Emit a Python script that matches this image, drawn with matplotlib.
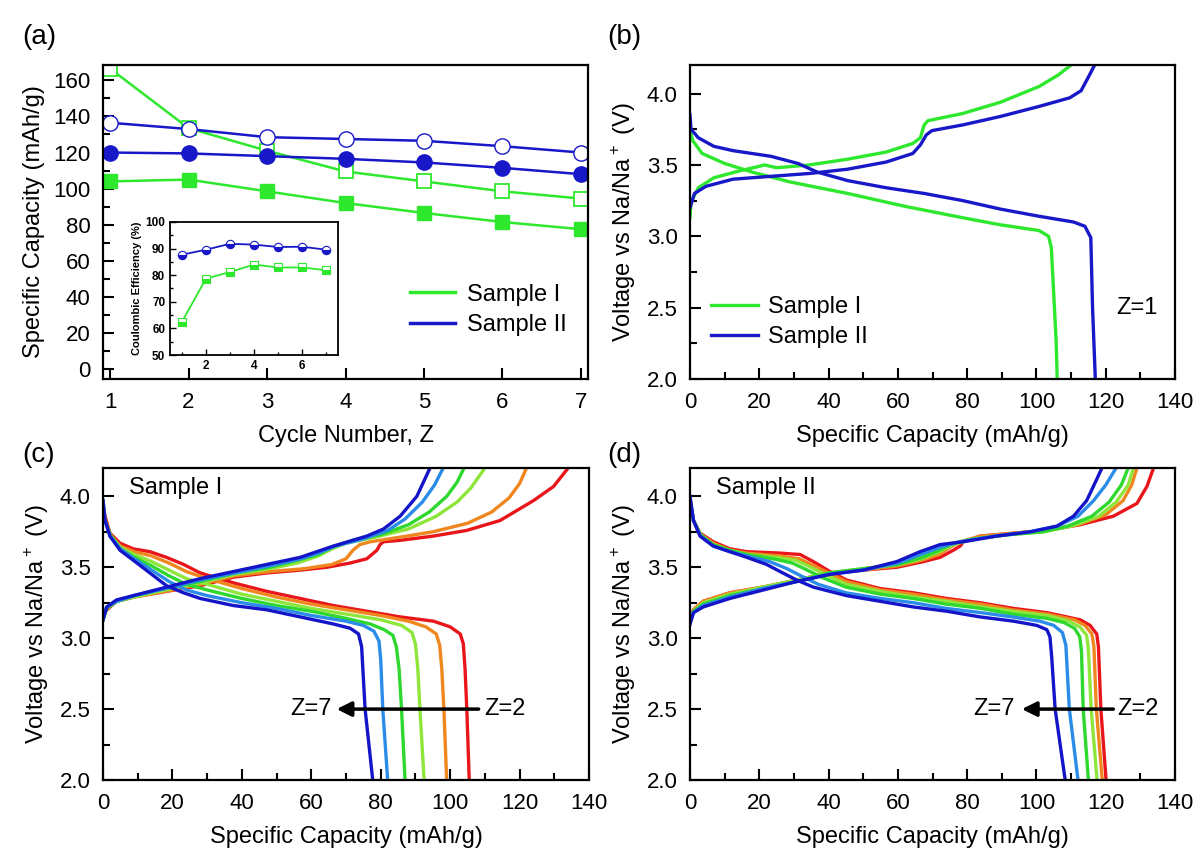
import numpy as np
import matplotlib.pyplot as plt
from matplotlib.ticker import MultipleLocator

plt.rcParams['font.family'] = ['Liberation Sans', 'DejaVu Sans']
plt.rcParams['mathtext.fontset'] = 'custom'
plt.rcParams['mathtext.rm'] = 'Liberation Sans'

# ---- panel (a): capacity vs cycle ----
cycles = [1, 2, 3, 4, 5, 6, 7]
cap_I_charge = [166.5, 133.5, 121.0, 109.5, 104.0, 98.5, 94.5]
cap_I_dis = [104.0, 105.0, 98.5, 92.0, 86.5, 81.5, 77.5]
cap_II_charge = [136.5, 133.0, 128.5, 127.5, 126.5, 123.5, 120.0]
cap_II_dis = [120.0, 119.5, 118.0, 116.5, 114.5, 111.5, 108.0]

# inset: coulombic efficiency
ce_I = [62.5, 78.7, 81.2, 84.0, 82.9, 82.9, 81.9]
ce_II = [87.7, 89.6, 91.8, 91.5, 90.6, 90.7, 89.6]

# ---- panel (b): first cycle, (capacity, voltage) ----
b_I_charge = [(0, 3.13), (0.3, 3.24), (2.4, 3.34), (6.9, 3.41), (14.6, 3.46), (20, 3.49),
              (21.5, 3.50), (25, 3.48), (34.5, 3.50), (45.5, 3.54), (56.6, 3.59), (64.3, 3.65),
              (66.5, 3.69), (67.6, 3.78), (68.7, 3.81), (78.7, 3.86), (89.7, 3.94), (100.8, 4.05),
              (106.3, 4.13), (110, 4.2)]
b_I_dis = [(0, 3.74), (0.8, 3.67), (3.5, 3.58), (10, 3.51), (17.9, 3.45), (29, 3.38), (45.5, 3.30),
           (62, 3.21), (78.7, 3.13), (89.7, 3.08), (100.8, 3.04), (103.5, 3.0), (104.3, 2.92),
           (105.2, 2.5), (105.7, 2.26), (106, 2.0)]
b_II_charge = [(0, 3.2), (1.3, 3.30), (4.6, 3.35), (12.4, 3.40), (23.4, 3.42), (34.5, 3.44),
               (45.5, 3.47), (56.6, 3.52), (64.3, 3.58), (66.5, 3.64), (68.2, 3.71), (69.8, 3.74),
               (78.7, 3.78), (89.7, 3.84), (100.8, 3.91), (109.6, 3.97), (112.9, 4.02),
               (115.1, 4.12), (116.8, 4.2)]
b_II_dis = [(0, 3.85), (0.3, 3.75), (2.4, 3.69), (6.9, 3.63), (12.4, 3.60), (23.4, 3.56),
            (31.2, 3.51), (36.7, 3.45), (45.5, 3.39), (56.6, 3.34), (67.6, 3.30), (78.7, 3.25),
            (89.7, 3.19), (100.8, 3.14), (110.7, 3.10), (114, 3.07), (115.7, 2.99), (116.2, 2.5),
            (117, 2.0)]

# ---- panel (c): Sample I, cycles 2-7 ----
c_charge = {
    2: [(0, 3.13), (0.1, 3.16), (1.1, 3.20), (3.9, 3.26), (8.7, 3.29), (18.3, 3.33), (28, 3.37),
        (37.6, 3.43), (47.2, 3.46), (56.8, 3.48), (64.5, 3.50), (71.2, 3.53), (76, 3.56),
        (78.9, 3.62), (79.8, 3.66), (80.8, 3.68), (85.6, 3.69), (95.2, 3.72), (104.8, 3.76),
        (114.4, 3.83), (124, 3.97), (129.8, 4.07), (134, 4.2)],
    3: [(0, 3.13), (1, 3.21), (4, 3.26), (9, 3.29), (18, 3.33), (28, 3.38), (38, 3.44), (48, 3.47),
        (58, 3.49), (66, 3.52), (70, 3.56), (72, 3.62), (74, 3.66), (77, 3.68), (85, 3.71),
        (95, 3.75), (105, 3.81), (112, 3.89), (117, 3.99), (120, 4.09), (122, 4.2)],
    4: [(0, 3.13), (1, 3.21), (4, 3.26), (9, 3.29), (18, 3.34), (28, 3.39), (38, 3.45), (48, 3.49),
        (56, 3.53), (62, 3.58), (66, 3.63), (70, 3.67), (78, 3.71), (88, 3.77), (96, 3.86),
        (102, 3.96), (106, 4.06), (110, 4.2)],
    5: [(0, 3.13), (1, 3.21), (4, 3.26), (9, 3.30), (18, 3.35), (28, 3.40), (38, 3.46), (48, 3.50),
        (56, 3.55), (62, 3.59), (66, 3.64), (72, 3.69), (80, 3.73), (88, 3.80), (94, 3.89),
        (99, 4.0), (102, 4.1), (104, 4.2)],
    6: [(0, 3.13), (1, 3.22), (4, 3.26), (9, 3.30), (18, 3.35), (28, 3.41), (38, 3.46), (48, 3.51),
        (57, 3.56), (62, 3.60), (67, 3.65), (75, 3.70), (82, 3.76), (87, 3.84), (92, 3.96),
        (95.5, 4.08), (98, 4.2)],
    7: [(0, 3.13), (1.1, 3.22), (3.9, 3.27), (8.7, 3.30), (18.3, 3.36), (28, 3.42), (37.6, 3.47),
        (47.2, 3.52), (56.8, 3.57), (61.6, 3.61), (66.4, 3.65), (76, 3.72), (80.8, 3.77),
        (85.6, 3.86), (90.4, 4.0), (94.2, 4.2)],
}
c_dis = {
    2: [(0, 3.92), (0.6, 3.86), (2, 3.74), (4.9, 3.67), (8.7, 3.63), (13.5, 3.61), (18.3, 3.57),
        (23.2, 3.52), (28, 3.46), (37.6, 3.39), (47.2, 3.33), (56.8, 3.28), (66.4, 3.23),
        (76, 3.19), (85.6, 3.15), (95.2, 3.12), (100, 3.08), (102.9, 3.03), (103.8, 2.96),
        (104.3, 2.78), (104.8, 2.5), (105.5, 2.0)],
    3: [(0, 3.95), (0.5, 3.84), (2, 3.73), (5, 3.65), (9, 3.61), (14, 3.58), (19, 3.53), (24, 3.47),
        (30, 3.42), (40, 3.35), (50, 3.29), (60, 3.24), (70, 3.20), (80, 3.16), (88, 3.12),
        (93, 3.08), (96, 3.03), (97, 2.95), (97.6, 2.78), (98.2, 2.5), (99, 2.0)],
    4: [(0, 3.96), (0.5, 3.84), (2, 3.73), (5, 3.64), (9, 3.59), (14, 3.54), (19, 3.48), (24, 3.42),
        (30, 3.38), (40, 3.31), (50, 3.26), (60, 3.21), (70, 3.17), (80, 3.13), (86, 3.09),
        (89, 3.04), (90, 2.96), (90.7, 2.78), (91.3, 2.5), (92.5, 2.0)],
    5: [(0, 3.96), (0.5, 3.84), (2, 3.73), (5, 3.63), (9, 3.57), (14, 3.51), (19, 3.44), (24, 3.38),
        (30, 3.34), (40, 3.28), (50, 3.23), (60, 3.19), (70, 3.14), (77, 3.10), (81, 3.06),
        (83.5, 3.02), (84.5, 2.94), (85.3, 2.78), (86, 2.5), (87, 2.0)],
    6: [(0, 3.97), (0.5, 3.84), (2, 3.72), (5, 3.63), (9, 3.56), (14, 3.48), (19, 3.40), (24, 3.34),
        (30, 3.30), (40, 3.25), (50, 3.21), (60, 3.16), (70, 3.12), (75, 3.09), (78, 3.05),
        (79.5, 2.98), (80, 2.85), (80.6, 2.5), (82, 2.0)],
    7: [(0, 3.97), (0.6, 3.83), (2, 3.72), (4.9, 3.62), (8.7, 3.55), (13.5, 3.46), (18.3, 3.37),
        (23.2, 3.32), (28, 3.28), (37.6, 3.23), (47.2, 3.20), (56.8, 3.15), (66.4, 3.10),
        (71.2, 3.07), (73.6, 3.03), (74.5, 2.94), (75.5, 2.5), (77.7, 2.0)],
}

# ---- panel (d): Sample II, cycles 2-7 ----
d_charge = {
    2: [(0, 3.13), (1, 3.20), (3.8, 3.26), (11.5, 3.32), (21.2, 3.36), (30.8, 3.41), (40.4, 3.46),
        (50, 3.48), (59.7, 3.50), (67.4, 3.54), (72.2, 3.57), (76, 3.62), (78, 3.65), (78.9, 3.68),
        (83.7, 3.72), (93.4, 3.74), (103, 3.76), (112.6, 3.80), (122.2, 3.86), (129, 3.95),
        (131.9, 4.07), (133.8, 4.2)],
    3: [(0, 3.13), (1, 3.20), (3.8, 3.26), (11.5, 3.32), (21, 3.36), (31, 3.41), (40, 3.46),
        (50, 3.48), (60, 3.51), (67, 3.55), (72, 3.59), (75, 3.64), (78, 3.68), (84, 3.72),
        (93, 3.74), (103, 3.76), (112, 3.80), (120, 3.87), (125, 3.97), (127.5, 4.08), (129, 4.2)],
    4: [(0, 3.12), (1, 3.19), (3.8, 3.25), (11.5, 3.31), (21, 3.36), (31, 3.41), (40, 3.46),
        (50, 3.49), (60, 3.52), (67, 3.56), (72, 3.61), (76, 3.66), (82, 3.70), (92, 3.73),
        (102, 3.75), (110, 3.79), (118, 3.86), (123, 3.96), (126.5, 4.08), (128, 4.2)],
    5: [(0, 3.11), (1, 3.19), (3.8, 3.24), (11.5, 3.30), (21, 3.35), (31, 3.40), (40, 3.46),
        (50, 3.49), (60, 3.52), (67, 3.57), (72, 3.62), (76, 3.67), (82, 3.70), (92, 3.73),
        (102, 3.75), (109, 3.79), (116, 3.86), (121, 3.96), (124.5, 4.08), (126.5, 4.2)],
    6: [(0, 3.10), (1, 3.18), (3.8, 3.23), (11.5, 3.29), (21, 3.35), (31, 3.40), (40, 3.45),
        (50, 3.48), (60, 3.53), (66.5, 3.59), (72, 3.64), (78, 3.68), (88, 3.72), (98, 3.75),
        (106, 3.79), (112, 3.86), (116.5, 3.97), (120, 4.08), (123, 4.2)],
    7: [(0, 3.10), (1, 3.18), (3.8, 3.22), (11.5, 3.28), (21.2, 3.34), (30.8, 3.40), (40.4, 3.45),
        (50, 3.48), (59.7, 3.54), (66.4, 3.61), (72.2, 3.66), (78.9, 3.68), (88.5, 3.72),
        (98.2, 3.75), (105.9, 3.79), (110.7, 3.86), (114.5, 3.97), (117.4, 4.12), (118.9, 4.2)],
}
d_dis = {
    2: [(0, 3.97), (1, 3.83), (2.9, 3.74), (6.7, 3.68), (11.5, 3.63), (16.4, 3.61), (26, 3.60),
        (31.8, 3.59), (35.6, 3.54), (40.4, 3.47), (45.2, 3.41), (54.9, 3.35), (64.5, 3.32),
        (74.1, 3.28), (83.7, 3.25), (93.4, 3.21), (103, 3.18), (112.6, 3.13), (115.5, 3.09),
        (117.4, 3.03), (117.9, 2.94), (118.6, 2.5), (120.1, 2.0)],
    3: [(0, 3.97), (1, 3.83), (3, 3.73), (6.7, 3.67), (11.5, 3.62), (16.4, 3.60), (26, 3.58),
        (31.5, 3.56), (35, 3.52), (40, 3.46), (45, 3.40), (55, 3.34), (64.5, 3.31), (74, 3.27),
        (84, 3.24), (93, 3.20), (103, 3.17), (111, 3.13), (114, 3.09), (116, 3.03), (116.6, 2.94),
        (117.3, 2.5), (119, 2.0)],
    4: [(0, 3.98), (1, 3.83), (3, 3.73), (6.7, 3.66), (11.5, 3.62), (16.4, 3.59), (25, 3.57),
        (30.5, 3.55), (34, 3.51), (39, 3.45), (45, 3.38), (55, 3.33), (64.5, 3.29), (74, 3.26),
        (84, 3.22), (93, 3.19), (103, 3.16), (109.5, 3.12), (112.5, 3.08), (114.5, 3.02),
        (115, 2.92), (115.8, 2.5), (117.5, 2.0)],
    5: [(0, 3.98), (1, 3.83), (3, 3.73), (6.7, 3.66), (11.5, 3.62), (16.4, 3.59), (24, 3.56),
        (29.5, 3.53), (33, 3.49), (38, 3.43), (45, 3.36), (55, 3.31), (64.5, 3.28), (74, 3.24),
        (84, 3.21), (93, 3.17), (103, 3.14), (108, 3.11), (111, 3.07), (112.5, 3.01), (113, 2.91),
        (113.5, 2.5), (115, 2.0)],
    6: [(0, 3.99), (1, 3.83), (3, 3.72), (6.7, 3.65), (11.5, 3.61), (16.4, 3.58), (23, 3.54),
        (28, 3.49), (32, 3.44), (37, 3.38), (45, 3.32), (55, 3.28), (64.5, 3.25), (74, 3.21),
        (84, 3.18), (93, 3.15), (101, 3.12), (105, 3.09), (107.5, 3.04), (108.5, 2.95),
        (109.5, 2.5), (112, 2.0)],
    7: [(0, 4.0), (1, 3.83), (2.9, 3.72), (6.7, 3.65), (11.5, 3.61), (16.4, 3.57), (22.1, 3.52),
        (26, 3.47), (30.8, 3.41), (35.6, 3.36), (45.2, 3.30), (54.9, 3.26), (64.5, 3.22),
        (74.1, 3.19), (83.7, 3.15), (93.4, 3.12), (100.1, 3.09), (103, 3.06), (103.9, 3.01),
        (104.4, 2.87), (105.4, 2.5), (108.3, 2.0)],
}

green = '#2ee82e'
blue = '#1818c8'
cyc_colors = {2: '#e8161a', 3: '#f0861e', 4: '#8ee63a', 5: '#2ed82e', 6: '#2a8ce8', 7: '#1414c8'}

W, H = 1200, 863
fig = plt.figure(figsize=(12, 8.63), dpi=100)


def box(l, t, r, b):
    return [l / W, 1 - b / H, (r - l) / W, (b - t) / H]


ax_a = fig.add_axes(box(103, 65, 588, 379))
ax_b = fig.add_axes(box(690, 65, 1175, 379))
ax_c = fig.add_axes(box(103, 468, 589, 780))
ax_d = fig.add_axes(box(690, 468, 1175, 780))


def style(ax, fs=16):
    for s in ax.spines.values():
        s.set_linewidth(1.6)
    ax.tick_params(which='both', direction='in', top=False, right=False, width=1.5,
                   labelsize=fs, pad=9)
    ax.tick_params(which='major', length=8)
    ax.tick_params(which='minor', length=5)


# panel (a)
ax_a.plot(cycles, cap_I_charge, '-s', color=green, lw=1.8, ms=10, mfc='white', mec=green, mew=1.3)
ax_a.plot(cycles, cap_I_dis, '-s', color=green, lw=1.8, ms=10, mec=green)
ax_a.plot(cycles, cap_II_charge, '-o', color=blue, lw=1.8, ms=11, mfc='white', mec=blue, mew=1.0)
ax_a.plot(cycles, cap_II_dis, '-o', color=blue, lw=1.8, ms=11, mec=blue)
ax_a.plot([], [], color=green, lw=2.5, label='Sample I')
ax_a.plot([], [], color=blue, lw=2.5, label='Sample II')
ax_a.set_xlim(0.91, 7.09)
ax_a.set_ylim(-5.5, 168.5)
ax_a.xaxis.set_major_locator(MultipleLocator(1))
ax_a.yaxis.set_major_locator(MultipleLocator(20))
ax_a.yaxis.set_minor_locator(MultipleLocator(10))
ax_a.set_xlabel('Cycle Number, Z', fontsize=17, labelpad=9)
ax_a.set_ylabel('Specific Capacity (mAh/g)', fontsize=17, labelpad=6)
style(ax_a)
ax_a.legend(loc='lower right', bbox_to_anchor=(1.0, 0.07), frameon=False, fontsize=17,
            handlelength=1.9, handletextpad=0.5, labelspacing=0.35)

# inset
ins = fig.add_axes(box(170, 222, 338, 355))
ins.plot(cycles, ce_II, '-o', color=blue, lw=1.3, ms=6, fillstyle='bottom', mfc=blue,
         mfcalt='white', mec=blue, mew=0.8)
ins.plot(cycles, ce_I, '-s', color=green, lw=1.3, ms=5.5, fillstyle='bottom', mfc=green,
         mfcalt='white', mec=green, mew=0.8)
ins.set_xlim(0.5, 7.5)
ins.set_ylim(50, 100)
ins.xaxis.set_major_locator(MultipleLocator(2))
ins.xaxis.set_minor_locator(MultipleLocator(1))
ins.yaxis.set_major_locator(MultipleLocator(10))
ins.yaxis.set_minor_locator(MultipleLocator(5))
for s in ins.spines.values():
    s.set_linewidth(1.3)
ins.tick_params(which='both', direction='in', top=False, right=False, width=1.0, labelsize=8.5)
ins.tick_params(which='major', length=4)
ins.tick_params(which='minor', length=2.5)
for t in ins.get_xticklabels() + ins.get_yticklabels():
    t.set_fontweight('bold')
ins.set_ylabel('Coulombic Efficiency (%)', fontsize=8, fontweight='bold', labelpad=2)


def vplot(ax, pts, color, lw=2.4, label=None):
    a = np.array(pts)
    ax.plot(a[:, 0], a[:, 1], color=color, lw=lw, label=label, solid_joinstyle='round')


# panel (b)
vplot(ax_b, b_I_charge, green, label='Sample I')
vplot(ax_b, b_I_dis, green)
vplot(ax_b, b_II_charge, blue, label='Sample II')
vplot(ax_b, b_II_dis, blue)
ax_b.text(129, 2.5, 'Z=1', fontsize=17, ha='center', va='center')
ax_b.legend(loc='lower left', bbox_to_anchor=(0.0, 0.03), frameon=False, fontsize=17,
            handlelength=2.0, handletextpad=0.4, labelspacing=0.35)

# panels (c) and (d)
for ax, ch, ds in [(ax_c, c_charge, c_dis), (ax_d, d_charge, d_dis)]:
    for z in [2, 3, 4, 5, 6, 7]:
        vplot(ax, ch[z], cyc_colors[z])
        vplot(ax, ds[z], cyc_colors[z])

ax_c.text(7.5, 4.06, 'Sample I', fontsize=17, va='center')
ax_d.text(7.5, 4.06, 'Sample II', fontsize=17, va='center')
ax_c.annotate('', xy=(66.5, 2.5), xytext=(109, 2.5),
              arrowprops=dict(arrowstyle='-|>', color='black', lw=2.5, mutation_scale=22))
ax_c.text(65.8, 2.5, 'Z=7', fontsize=17, ha='right', va='center')
ax_c.text(109.8, 2.5, 'Z=2', fontsize=17, ha='left', va='center')
ax_d.annotate('', xy=(95, 2.5), xytext=(123, 2.5),
              arrowprops=dict(arrowstyle='-|>', color='black', lw=2.5, mutation_scale=22))
ax_d.text(93.8, 2.5, 'Z=7', fontsize=17, ha='right', va='center')
ax_d.text(123.4, 2.5, 'Z=2', fontsize=17, ha='left', va='center')

for ax in [ax_b, ax_c, ax_d]:
    ax.set_xlim(0, 140)
    ax.set_ylim(2.0, 4.2)
    ax.xaxis.set_major_locator(MultipleLocator(20))
    ax.xaxis.set_minor_locator(MultipleLocator(10))
    ax.yaxis.set_major_locator(MultipleLocator(0.5))
    ax.yaxis.set_minor_locator(MultipleLocator(0.25))
    ax.yaxis.set_major_formatter(plt.FormatStrFormatter('%.1f'))
    ax.set_xlabel('Specific Capacity (mAh/g)', fontsize=17, labelpad=9)
    ax.set_ylabel('Voltage vs Na/Na$^+$ (V)', fontsize=17, labelpad=6)
    style(ax)

for lab, x, y in [('(a)', 22, 37), ('(b)', 607, 37), ('(c)', 22, 455), ('(d)', 607, 455)]:
    fig.text(x / W, 1 - y / H, lab, fontsize=20, va='center', ha='left')

fig.savefig('out.png', dpi=100)
